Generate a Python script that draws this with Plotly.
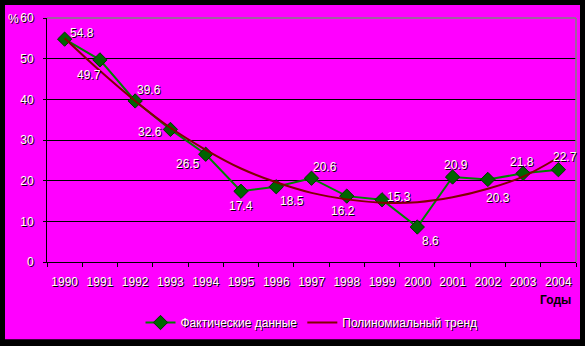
import plotly.graph_objects as go

years = ["1990", "1991", "1992", "1993", "1994", "1995", "1996", "1997",
         "1998", "1999", "2000", "2001", "2002", "2003", "2004"]
actual = [54.8, 49.7, 39.6, 32.6, 26.5, 17.4, 18.5, 20.6, 16.2, 15.3, 8.6, 20.9, 20.3, 21.8, 22.7]
trend = [55.0, 47.0, 39.6, 33.0, 27.6, 23.0, 19.6, 17.0, 15.4, 14.6, 14.7, 15.9, 18.0, 21.0, 25.7]
y_ticks = [0, 10, 20, 30, 40, 50, 60]
label_shift = [(17, 6), (-11, -15), (14, 11), (-20, -3), (-18, -10), (0, -15), (16, -14),
               (13, 11), (-4, -15), (17, 3), (13, -14), (3, 12), (10, -19), (-1, 11), (7, 13)]

W, H = 585, 346
L, R, T, B = 47, 9, 18, 82
pw, ph = W - L - R, H - T - B

def px_x(p):
    return (p - L) / pw

def px_y(p):
    return (H - B - p) / ph

txt_font = dict(family="Arial, Liberation Sans", size=12, color="white",
                shadow="1px 1px 0px black")

fig = go.Figure()
fig.add_trace(go.Scatter(
    x=years, y=actual, mode="lines+markers", name="Фактические данные",
    line=dict(color="#008000", width=2),
    marker=dict(symbol="diamond", size=11, color="#006400",
                line=dict(color="#003300", width=1)),
))
fig.add_trace(go.Scatter(
    x=years, y=trend, mode="lines", name="Полиномиальный тренд",
    line=dict(color="#800000", width=2, shape="spline"),
))

annotations = []
for i, (v, (dx, dy)) in enumerate(zip(actual, label_shift)):
    annotations.append(dict(x=i, y=v, xref="x", yref="y", text=f"{v}",
                            showarrow=False, xshift=dx, yshift=dy,
                            xanchor="center", yanchor="middle", font=txt_font))
annotations.append(dict(x=px_x(13), y=px_y(19), xref="paper", yref="paper", text="%",
                        showarrow=False, xanchor="center", yanchor="middle", font=txt_font))
annotations.append(dict(x=px_x(573), y=px_y(302), xref="paper", yref="paper",
                        text="<b>Годы</b>", showarrow=False, xanchor="right", yanchor="middle",
                        font=dict(family="Arial, Liberation Sans", size=12, color="black")))

shapes = [
    dict(type="rect", xref="paper", yref="paper", x0=px_x(5), x1=px_x(580),
         y0=px_y(342), y1=px_y(5), fillcolor="#FF00FF", line=dict(width=0), layer="below"),
    dict(type="line", xref="paper", yref="paper", x0=0, x1=1, y0=1, y1=1,
         line=dict(color="#808080", width=1.5), layer="above"),
    dict(type="line", xref="paper", yref="paper", x0=1, x1=1, y0=0, y1=1,
         line=dict(color="#808080", width=1.5), layer="above"),
]

fig.update_layout(
    width=W, height=H,
    margin=dict(l=L, r=R, t=T, b=B),
    paper_bgcolor="black", plot_bgcolor="#FF00FF",
    showlegend=True,
    legend=dict(orientation="h", x=0.5, xanchor="center", y=px_y(325), yanchor="middle",
                bgcolor="rgba(0,0,0,0)", font=txt_font, itemwidth=30),
    annotations=annotations,
    shapes=shapes,
    xaxis=dict(type="category", range=[-0.5, 14.5], tickson="boundaries",
               showline=True, linecolor="black", linewidth=1,
               ticks="outside", ticklen=4, tickcolor="black", tickangle=0,
               showgrid=False, tickfont=txt_font, ticklabelstandoff=9),
    yaxis=dict(range=[0, 60], tickvals=y_ticks, showline=True, linecolor="black",
               linewidth=1, ticks="outside", ticklen=3, tickcolor="black",
               showgrid=True, gridcolor="black", gridwidth=1, zeroline=False,
               tickfont=txt_font, ticklabelstandoff=7),
)

fig.write_html("out.html")
